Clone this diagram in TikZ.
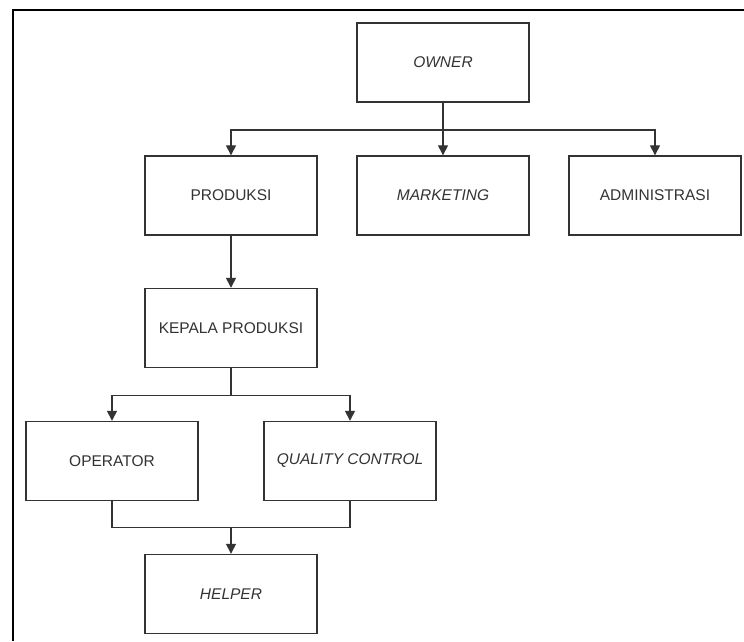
\documentclass[tikz,border=0pt]{standalone}
\usepackage{fontspec}
\setmainfont{Liberation Sans}
\usetikzlibrary{arrows.meta}
\definecolor{ink}{HTML}{333333}
\begin{document}
\begin{tikzpicture}[x=1pt,y=1pt,
  orgbox/.style={draw=ink, line width=1.4pt, fill=white, minimum width=172pt,
    minimum height=79pt, inner sep=0pt, text=ink,
    font=\fontsize{15.5}{18}\selectfont},
  link/.style={draw=ink, line width=1.4pt},
  arr/.style={link, -{Triangle[length=10pt,width=10pt]}}]
  \useasboundingbox (0,0) rectangle (744,641);
  % outer frame (left and top edges)
  \draw[line width=2pt, black] (12.5,0) -- (12.5,630.5) -- (744,630.5);

  % boxes
  \node[orgbox] (owner) at (443,578.5) {\itshape OWNER};
  \node[orgbox] (prod)  at (231,445.5) {PRODUKSI};
  \node[orgbox] (mkt)   at (443,445.5) {\itshape MARKETING};
  \node[orgbox] (adm)   at (655,445.5) {ADMINISTRASI};
  \node[orgbox] (kep)   at (231,313)   {KEPALA PRODUKSI};
  \node[orgbox] (op)    at (112,180)   {OPERATOR};
  \node[orgbox] (qc)    at (350,180)   {\itshape QUALITY CONTROL};
  \node[orgbox] (help)  at (231,47)    {\itshape HELPER};

  % owner to departments
  \draw[arr] (owner.south) -- ++(0,-27.5) -| (prod.north);
  \draw[arr] (owner.south) -- (mkt.north);
  \draw[arr] (owner.south) -- ++(0,-27.5) -| (adm.north);

  % produksi to kepala produksi
  \draw[arr] (prod.south) -- (kep.north);

  % kepala produksi to operator and quality control
  \draw[arr] (kep.south) -- ++(0,-27) -| (op.north);
  \draw[arr] (kep.south) -- ++(0,-27) -| (qc.north);

  % operator and quality control merge into helper
  \draw[link] (op.south) -- ++(0,-26) coordinate (mj) -| (qc.south);
  \draw[arr] (mj -| help.north) -- (help.north);
\end{tikzpicture}
\end{document}
